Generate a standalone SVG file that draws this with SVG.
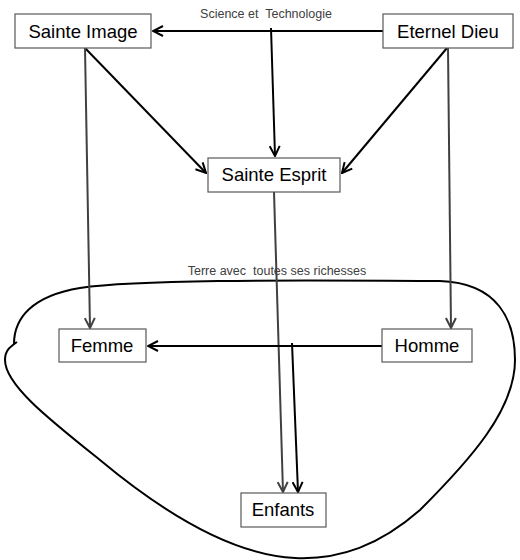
<svg xmlns="http://www.w3.org/2000/svg" width="520" height="560" viewBox="0 0 520 560">
<style>
.box{fill:#fff;stroke:#595959;stroke-width:1.2}
.lbl{font-family:"Liberation Sans",Arial,sans-serif;font-size:18.5px;fill:#000;text-anchor:middle}
.small{font-family:"Liberation Sans",Arial,sans-serif;font-size:12.5px;fill:#404040;text-anchor:middle;white-space:pre}
.blk{fill:none;stroke:#000;stroke-width:2}
.gry{fill:none;stroke:#404040;stroke-width:2}
</style>
<defs>
<marker id="ab" markerUnits="userSpaceOnUse" viewBox="0 0 12 12" refX="11" refY="6" markerWidth="12" markerHeight="12" orient="auto">
<path d="M1,1 L11,6 L1,11" fill="none" stroke="#000" stroke-width="2"/>
</marker>
<marker id="ag" markerUnits="userSpaceOnUse" viewBox="0 0 12 12" refX="11" refY="6" markerWidth="12" markerHeight="12" orient="auto">
<path d="M1,1 L11,6 L1,11" fill="none" stroke="#404040" stroke-width="2"/>
</marker>
</defs>
<g id="terre">
<path d="M14,344 C14,318 32,296 80,288 C150,278 350,281 440,281 C498,283 515,320 515,360 C515,410 470,460 420,510 C380,545 340,560 295,558 C230,555 160,510 100,460 C50,420 5,385 5,360 C5,350 10,347 17,342" fill="none" stroke="#000" stroke-width="2"/>
<text class="small" x="277" y="275">Terre avec  toutes ses richesses</text>
</g>
<g id="connectors">
<line class="blk" x1="383" y1="31" x2="153" y2="31" marker-end="url(#ab)"/>
<line class="blk" x1="271" y1="28" x2="275" y2="156" marker-end="url(#ab)"/>
<line class="blk" x1="85" y1="48" x2="206" y2="173" marker-end="url(#ab)"/>
<line class="blk" x1="447" y1="48" x2="342" y2="173" marker-end="url(#ab)"/>
<line class="gry" x1="85" y1="48" x2="90" y2="328" marker-end="url(#ag)"/>
<line class="gry" x1="448" y1="48" x2="451" y2="328" marker-end="url(#ag)"/>
<line class="gry" x1="274" y1="192" x2="283" y2="492" marker-end="url(#ag)"/>
<line class="blk" x1="382" y1="346" x2="148" y2="346" marker-end="url(#ab)"/>
<line class="blk" x1="292" y1="343" x2="298" y2="492" marker-end="url(#ab)"/>
<text class="small" x="266" y="18">Science et  Technologie</text>
</g>
<g id="sainte-image">
<rect class="box" x="15" y="14" width="136" height="34"/>
<text class="lbl" x="83" y="38">Sainte Image</text>
</g>
<g id="eternel-dieu">
<rect class="box" x="383" y="14" width="130" height="34"/>
<text class="lbl" x="448" y="38">Eternel Dieu</text>
</g>
<g id="sainte-esprit">
<rect class="box" x="208" y="158" width="132" height="34"/>
<text class="lbl" x="274" y="181">Sainte Esprit</text>
</g>
<g id="femme">
<rect class="box" x="59" y="329" width="87" height="33"/>
<text class="lbl" x="102" y="352">Femme</text>
</g>
<g id="homme">
<rect class="box" x="382" y="329" width="90" height="33"/>
<text class="lbl" x="427" y="352">Homme</text>
</g>
<g id="enfants">
<rect class="box" x="241" y="493" width="85" height="34"/>
<text class="lbl" x="283" y="516">Enfants</text>
</g>
</svg>
